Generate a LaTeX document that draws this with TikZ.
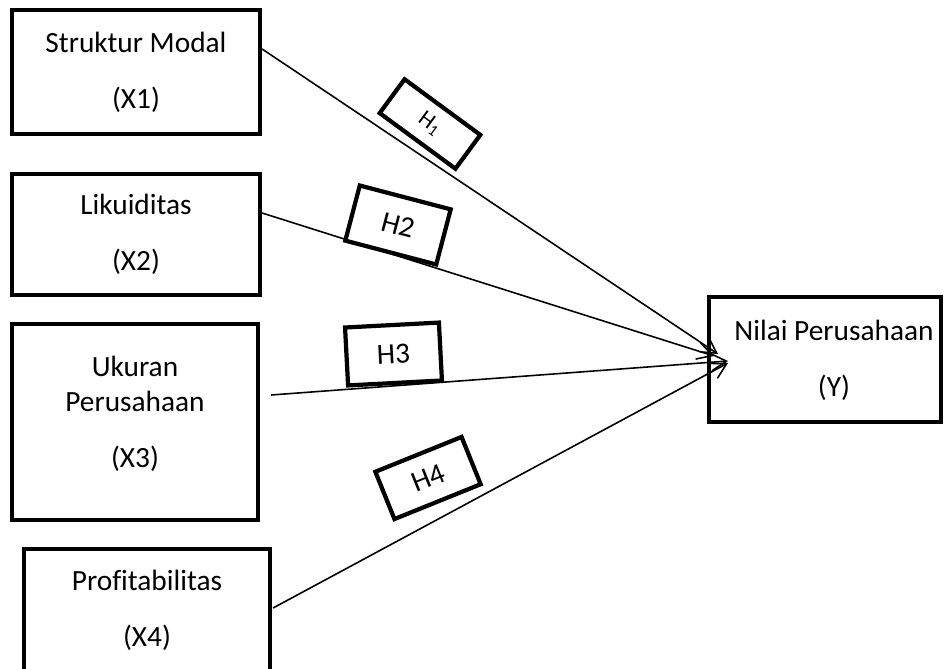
\documentclass[tikz,border=0pt]{standalone}
\usepackage{fontspec}
\setmainfont{Carlito}[Ligatures=NoCommon]
\usetikzlibrary{arrows.meta}
\begin{document}
\begin{tikzpicture}[
  x=0.02cm, y=-0.02cm,
  varbox/.style={rectangle, draw=black, line width=2.4pt, fill=white, inner sep=0pt, minimum width=4.96cm, minimum height=2.44cm, align=center, font=\fontsize{16.7}{20}\selectfont},
  vartext/.style={align=center, inner sep=0pt, font=\fontsize{16.7}{20}\selectfont},
  hypo/.style={rectangle, draw=black, line width=2.4pt, fill=white, inner sep=0pt, minimum width=1.88cm, font=\fontsize{16.7}{20}\selectfont},
  link/.style={line width=0.9pt, -{Straight Barb[length=3mm, width=3.4mm]}}
]
  \clip (0,0) rectangle (947,669);

  \node[varbox, minimum height=2.48cm] (x1) at (136,72) {Struktur Modal\\[12pt](X1)};
  \node[varbox, minimum height=2.42cm] (x2) at (136,234.5) {Likuiditas\\[12pt](X2)};
  \node[varbox, minimum width=4.92cm, minimum height=3.92cm] (x3) at (135,422) {};
  \node[vartext] (x3t) at (135,414) {Ukuran\\Perusahaan\\[12pt](X3)};
  \node[varbox, minimum width=4.92cm] (x4) at (147,610) {Profitabilitas\\[12pt](X4)};
  \node[varbox, minimum width=4.64cm, minimum height=2.5cm] (y) at (825,359.5) {};
  \node[vartext] (yt) at (834,360) {Nilai Perusahaan\\[12pt](Y)};

  \coordinate (in1) at (718,354);
  \coordinate (in2) at (714,356);
  \coordinate (in3) at (728,361);
  \coordinate (in4) at (728,363);

  \draw[link] ([yshift=0.46cm]x1.east) -- (in1);
  \draw[link] ([yshift=0.43cm]x2.east) -- (in2);
  \draw[link] ([xshift=0.22cm, yshift=0.54cm]x3.east) -- (in3);
  \draw[link] ([xshift=0.02cm, yshift=0.04cm]x4.east) -- (in4);

  \node[hypo, minimum height=0.84cm, rotate=-36.3, font=\fontsize{13}{15}\selectfont] (h1) at (430,124) {H\textsubscript{1}};
  \node[hypo, minimum height=1.14cm, rotate=-14.7] (h2) at (398,225) {H2};
  \node[hypo, minimum height=1.16cm, rotate=3] (h3) at (393.5,354) {H3};
  \node[hypo, minimum width=1.86cm, minimum height=1.02cm, rotate=22] (h4) at (428,478) {H4};
\end{tikzpicture}
\end{document}
